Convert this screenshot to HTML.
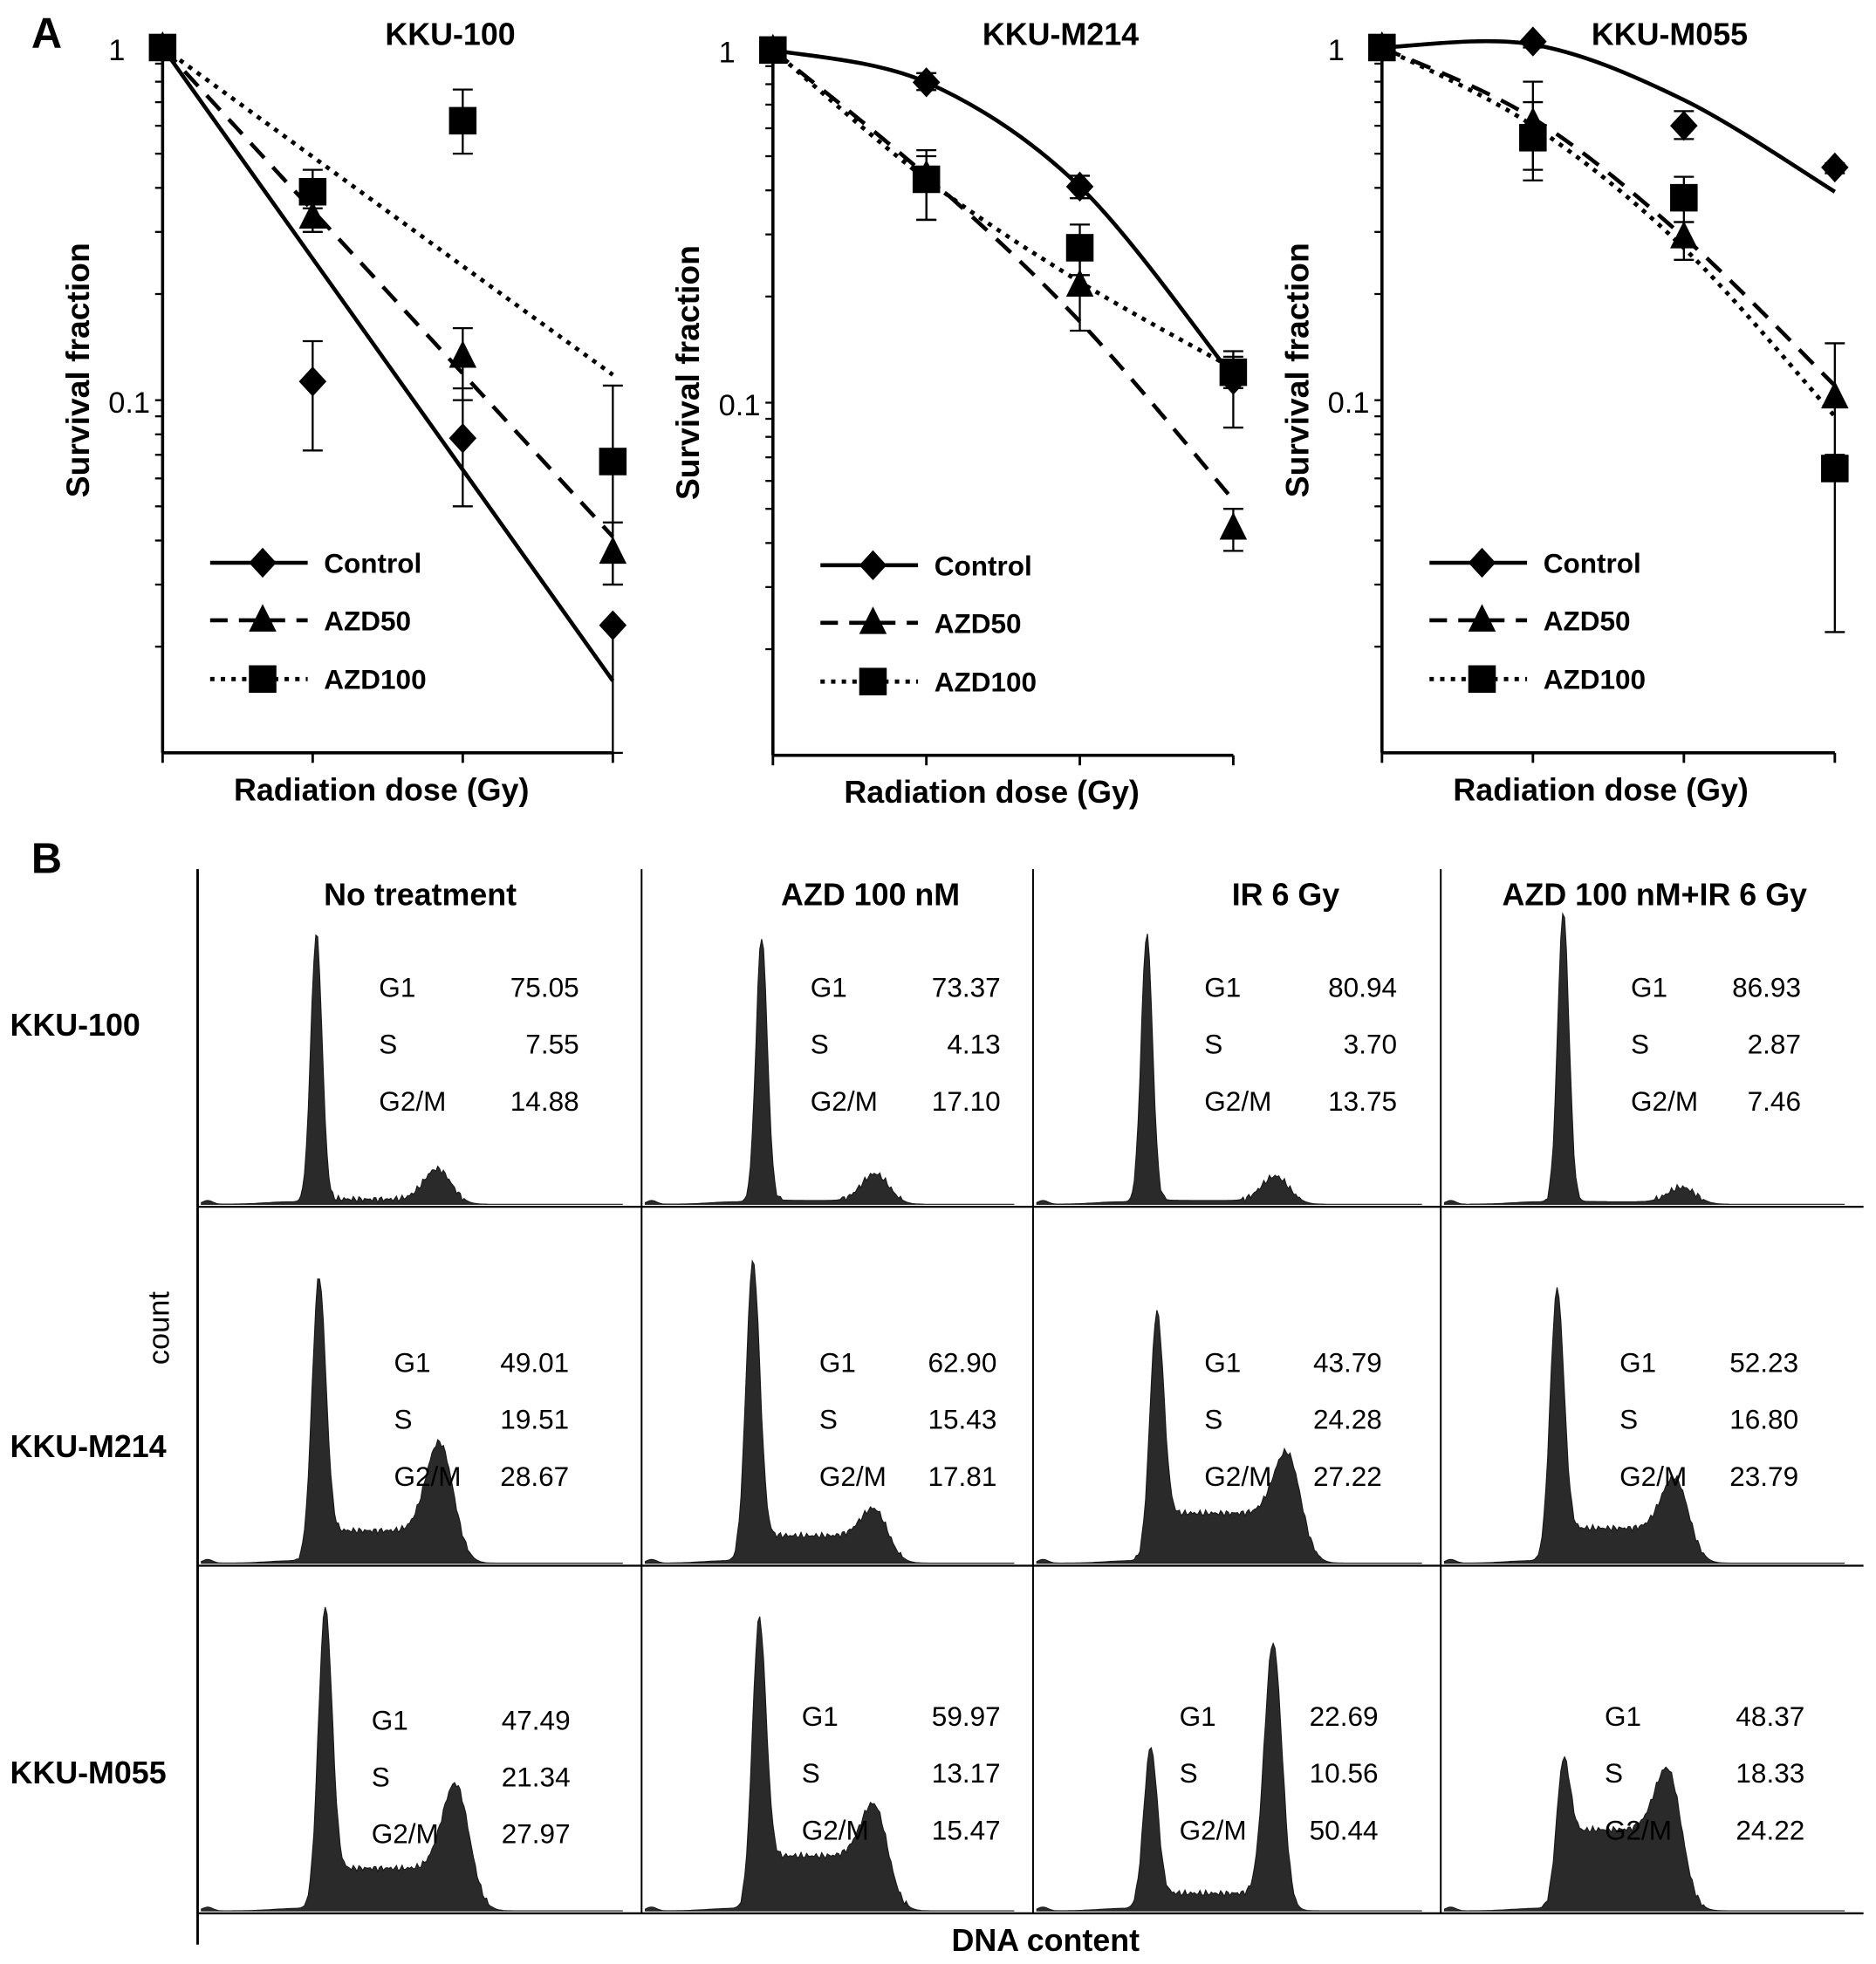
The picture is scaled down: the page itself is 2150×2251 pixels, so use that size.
<!DOCTYPE html>
<html><head><meta charset="utf-8"><style>
html,body{margin:0;padding:0;background:#fff}
svg{display:block}
text{font-family:"Liberation Sans",sans-serif}
.b{font-weight:bold}
</style></head><body>
<svg id="fig" width="2150" height="2251" viewBox="0 0 1500 1570.5" xmlns="http://www.w3.org/2000/svg">
<rect width="1500" height="1571" fill="#fff"/>
<text x="25" y="38" font-size="34" class="b">A</text>
<text x="25" y="698" font-size="34" class="b">B</text>
<g id="A"></g><g id="B"></g>
</svg>
<script>
// ---- Panel A data ----
const titles = ["KKU-100","KKU-M214","KKU-M055"];
const doseIdx = [0,1,2,3];
const seriesNames = ["Control","AZD50","AZD100"];
const ctrlVals = [[1,0.113,0.078,0.023],[1,0.81,0.41,0.116],[1,1.04,0.60,0.457]];
const azd50Vals = [[1,0.33,0.133,0.037],[1,0.44,0.215,0.044],[1,0.61,0.29,0.102]];
const azd100Vals = [[1,0.39,0.62,0.067],[1,0.43,0.275,0.122],[1,0.555,0.375,0.064]];
const ctrlErrLo = [[1,0.072,0.05,0.01],[1,0.77,0.38,0.085],[1,1.0,0.55,0.44]];
const ctrlErrHi = [[1,0.147,0.108,0.023],[1,0.86,0.44,0.135],[1,1.06,0.66,0.47]];
const azd50ErrLo = [[1,0.30,0.10,0.03],[1,0.33,0.16,0.038],[1,0.45,0.25,0.06]];
const azd50ErrHi = [[1,0.36,0.16,0.045],[1,0.52,0.26,0.05],[1,0.80,0.32,0.145]];
const azd100ErrLo = [[1,0.35,0.5,0.03],[1,0.33,0.23,0.11],[1,0.42,0.32,0.022]];
const azd100ErrHi = [[1,0.45,0.76,0.11],[1,0.50,0.32,0.14],[1,0.70,0.43,0.07]];
const ctrlFit = [[1,0.252,0.0635,0.016],[1,0.81,0.41,0.118],[1,1.02,0.71,0.39]];
const azd50Fit = [[1,0.345,0.119,0.041],[1,0.44,0.17,0.053],[1,0.63,0.29,0.11]];
const azd100Fit = [[1,0.49,0.24,0.118],[1,0.43,0.22,0.125],[1,0.60,0.27,0.09]];
const yTickVals = [1,0.1];
const yTickLabels = ["1","0.1"];
// layout
const charts = [{x0:130,dx:120,y1:38},{x0:618,dx:122.7,y1:40},{x0:1105,dx:120.7,y1:38}];
const DEC = 282;
const NS="http://www.w3.org/2000/svg";
function mk(tag,attrs,parent){const e=document.createElementNS(NS,tag);for(const k in attrs)e.setAttribute(k,attrs[k]);parent.appendChild(e);return e;}
const A=document.getElementById('A');
const dashes=["", "16,10", "3.5,5"];
const lineW=[3.2,3.2,3.4];
function marker(g,type,x,y){
  let e;
  if(type===0) e=mk('polygon',{points:`${x},${y-12} ${x+11},${y} ${x},${y+12} ${x-11},${y}`,fill:'#000'},g);
  else if(type===1) e=mk('polygon',{points:`${x},${y-13} ${x+11},${y+9} ${x-11},${y+9}`,fill:'#000'},g);
  else e=mk('rect',{x:x-11,y:y-11,width:22,height:22,fill:'#000'},g);
  return e;
}
function catmull(pts){let d=`M${pts[0][0]},${pts[0][1]}`;for(let i=0;i<pts.length-1;i++){const p0=pts[Math.max(0,i-1)],p1=pts[i],p2=pts[i+1],p3=pts[Math.min(pts.length-1,i+2)];d+=` C${p1[0]+(p2[0]-p0[0])/6},${p1[1]+(p2[1]-p0[1])/6} ${p2[0]-(p3[0]-p1[0])/6},${p2[1]-(p3[1]-p1[1])/6} ${p2[0]},${p2[1]}`;}return d;}
const tickOff=[30,10];
charts.forEach((c,ci)=>{
  const g=mk('g',{},A);
  
  
  const X=i=>c.x0+i*c.dx;
  const Y=v=>c.y1-Math.log10(v)*DEC;
  const yb=c.y1+2*DEC;
  const ax=mk('line',{x1:c.x0,y1:c.y1,x2:c.x0,y2:yb,stroke:'#000','stroke-width':2.5},g);
  
  
  const bx=mk('line',{x1:c.x0,y1:yb,x2:X(3),y2:yb,stroke:'#000','stroke-width':2.5},g);
  
  
  doseIdx.forEach(i=>{const t=mk('line',{x1:X(i),y1:yb,x2:X(i),y2:yb+8,stroke:'#000','stroke-width':2},g);
    
    });
  for(let d=0;d<2;d++)for(let m=2;m<=10;m++){const v=Math.pow(10,-d-1)*m;const t=mk('line',{x1:c.x0-6,y1:Y(v),x2:c.x0,y2:Y(v),stroke:'#000','stroke-width':1.6},g);
    
    }
  yTickVals.forEach((v,i)=>{const t=mk('text',{x:c.x0-tickOff[i],y:Y(v)+10,'font-size':24,'text-anchor':'end'},g);t.textContent=yTickLabels[i];
    
    });
  const tt=mk('text',{x:c.x0+230,y:36,'font-size':25,'text-anchor':'middle',class:'b'},g);tt.textContent=titles[ci];
  
  
  const yl=mk('text',{x:0,y:0,'font-size':26,'text-anchor':'middle',class:'b',transform:`translate(${c.x0-59},${c.y1+258}) rotate(-90)`},g);yl.textContent='Survival fraction';
  
  
  const xl=mk('text',{x:c.x0+175,y:yb+38,'font-size':25,'text-anchor':'middle',class:'b'},g);xl.textContent='Radiation dose (Gy)';
  
  
  const vals=[ctrlVals,azd50Vals,azd100Vals],lo=[ctrlErrLo,azd50ErrLo,azd100ErrLo],hi=[ctrlErrHi,azd50ErrHi,azd100ErrHi],fit=[ctrlFit,azd50Fit,azd100Fit];
  [2,1,0].forEach(s=>{
    const pts=fit[s][ci].map((v,i)=>[X(i),Y(v)]);
    const p=mk('path',{d:ci===0?('M'+pts.map(q=>q.join(',')).join(' L')):catmull(pts),fill:'none',stroke:'#000','stroke-width':lineW[s],'stroke-dasharray':dashes[s]},g);
    
    
    vals[s][ci].forEach((v,i)=>{
      if(i>0){const e=mk('path',{d:`M${X(i)},${Y(lo[s][ci][i])}V${Y(hi[s][ci][i])}M${X(i)-8},${Y(lo[s][ci][i])}h16M${X(i)-8},${Y(hi[s][ci][i])}h16`,stroke:'#000','stroke-width':1.6,fill:'none'},g);
        
        }
      const m=marker(g,s,X(i),Y(v));
      
      
    });
  });
  const lx=c.x0+38, ly=[c.y1+412,c.y1+458,c.y1+505];
  seriesNames.forEach((n,s)=>{
    const lg=mk('g',{},g);
    
    
    mk('line',{x1:lx,y1:ly[s],x2:lx+78,y2:ly[s],stroke:'#000','stroke-width':lineW[s],'stroke-dasharray':s===1?'14,9':dashes[s]},lg);
    marker(lg,s,lx+42,ly[s]);
    const t=mk('text',{x:lx+91,y:ly[s]+8,'font-size':22,class:'b'},lg);t.textContent=n;
  });
});
// ---- Panel B data ----
const colHeads = ["No treatment","AZD 100 nM","IR 6 Gy","AZD 100 nM+IR 6 Gy"];
const rowLabels = ["KKU-100","KKU-M214","KKU-M055"];
const g1Pct = [[75.05,73.37,80.94,86.93],[49.01,62.90,43.79,52.23],[47.49,59.97,22.69,48.37]];
const sPct = [[7.55,4.13,3.70,2.87],[19.51,15.43,24.28,16.80],[21.34,13.17,10.56,18.33]];
const g2Pct = [[14.88,17.10,13.75,7.46],[28.67,17.81,27.22,23.79],[27.97,15.47,50.44,24.22]];
const g1Height = [[215,213,215,233],[225,238,195,215],[238,228,128,113]];
const sLevel = [[4,3,3,2],[26,22,40,28],[34,44,14,65]];
const g2Height = [[25,22,20,12],[75,25,55,45],[73,48,203,58]];
const colX=[158,513,826,1152,1490];
const rowY=[692,965,1252,1530];
const g1Off=[[95,96,91,98],[97,89,99,93],[102,94,94,98]];
const g2Off=[[192,187,194,193],[194,187,204,188],[207,187,192,183]];
const B=document.getElementById('B');
colHeads.forEach((h,ci)=>{const t=mk('text',{x:[336,696,1028,1323][ci],y:724,'font-size':25,'text-anchor':'middle',class:'b'},B);t.textContent=h;
  
  });
rowLabels.forEach((r,ri)=>{const t=mk('text',{x:8,y:[828,1165,1426][ri],'font-size':25,class:'b'},B);t.textContent=r;
  
  });
const cnt=mk('text',{x:0,y:0,'font-size':24,'text-anchor':'middle',transform:'translate(135,1062) rotate(-90)'},B);cnt.textContent='count';


const dna=mk('text',{x:836,y:1560,'font-size':25,'text-anchor':'middle',class:'b'},B);dna.textContent='DNA content';


const gauss=(x,c,s)=>Math.exp(-0.5*((x-c)/s)**2);
for(let ri=0;ri<3;ri++)for(let ci=0;ci<4;ci++){
  const g=mk('g',{},B);
  
  
  const x0=colX[ci],x1=colX[ci+1],yb=rowY[ri+1]-2;
  const c1=x0+g1Off[ri][ci],c2=x0+g2Off[ri][ci];
  let d=`M${x0+3},${yb}`;
  for(let x=x0+3;x<=x1-15;x+=1.5){
    const plateau=sLevel[ri][ci]*(1/(1+Math.exp(-(x-c1-6)/3)))*(1/(1+Math.exp((x-c2-8)/5)));
    let h=g1Height[ri][ci]*gauss(x,c1,ri===0?4.5:5.5)+g2Height[ri][ci]*gauss(x,c2,ri===2&&ci===2?7:11)+plateau+3*gauss(x,x0+8,4)+2*gauss(x,c1-20,20);
    h+=h>4?1.5*Math.sin(x*2.7)+1.2*Math.sin(x*5.3):0;
    d+=` L${x.toFixed(1)},${(yb-Math.max(0,h)).toFixed(1)}`;
  }
  d+=` L${x1-15},${yb} Z`;
  mk('path',{d:d,fill:'#2a2a2a',stroke:'#1a1a1a','stroke-width':0.8},g);
  const ax=mk('line',{x1:x0,y1:rowY[ri]+(ri===0?3:0),x2:x0,y2:rowY[ri+1],stroke:'#000','stroke-width':ci===0?2:1.4},g);
  
  
  const bl=mk('line',{x1:x0,y1:rowY[ri+1],x2:x1,y2:rowY[ri+1],stroke:'#000','stroke-width':1.6},g);
  
  
  const tx=[[303,648,963,1304],[315,655,963,1295],[297,641,943,1283]][ri][ci];
  const vx=[[463,800,1117,1440],[455,797,1105,1438],[456,800,1102,1443]][ri][ci];
  const ty=[[797,1097,1383],[797,1097,1380],[797,1097,1380],[797,1097,1380]][ci][ri];
  const lbl=["G1","S","G2/M"],vv=[g1Pct,sPct,g2Pct];
  lbl.forEach((L,k)=>{
    const a=mk('text',{x:tx,y:ty+k*45.5,'font-size':22},g);a.textContent=L;
    
    
    const b=mk('text',{x:vx,y:ty+k*45.5,'font-size':22,'text-anchor':'end'},g);b.textContent=vv[k][ri][ci].toFixed(2);
    
    
  });
}
const ext=mk('line',{x1:158,y1:1530,x2:158,y2:1555,stroke:'#000','stroke-width':2},B);


</script>
</body></html>
